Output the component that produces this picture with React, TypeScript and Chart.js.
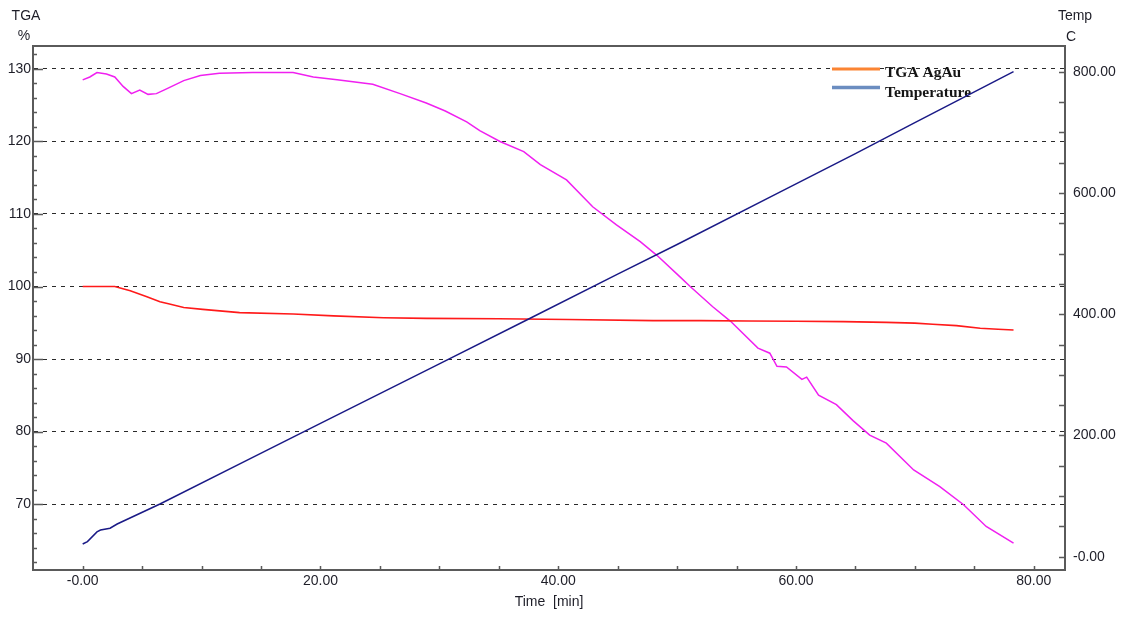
import { useEffect, useRef } from 'react';
import { Chart, registerables } from 'chart.js';

Chart.register(...registerables);

// TGA mass curve (%), left axis
const tgaTime = [0, 2.7, 4.0, 5.4, 6.5, 7.3, 8.5, 10.1, 13.2, 17.7, 21.1, 25.3, 28.9, 35, 40.8, 48, 52, 56, 60, 64, 67.6, 70, 71.5, 73.5, 75.5, 77, 78.3];
const tgaPercent = [100, 100, 99.4, 98.6, 97.9, 97.6, 97.1, 96.85, 96.4, 96.2, 95.95, 95.7, 95.6, 95.55, 95.45, 95.3, 95.3, 95.25, 95.2, 95.15, 95.05, 94.95, 94.8, 94.6, 94.25, 94.1, 94.0];

// Furnace temperature (C), right axis
const tempTime = [0, 0.4, 1.2, 1.5, 2.3, 2.9, 6.5, 13.8, 20, 30, 37.6, 45, 50, 58.6, 65, 70, 78.3];
const tempCelsius = [21, 25, 41, 44, 47, 54, 87, 159, 220, 318, 393, 466, 515, 601, 665, 716, 800];

// Auxiliary signal trace, plotted against the left axis
const signalTime = [0, 0.6, 1.2, 2.0, 2.7, 3.4, 4.1, 4.8, 5.5, 6.2, 7.1, 8.5, 9.9, 11.5, 14.3, 17.7, 19.4, 21.4, 24.4, 26.7, 28.9, 30.5, 32.3, 33.4, 35.1, 37.1, 38.5, 40.7, 42.9, 44.9, 46.9, 48.3, 50.2, 51.1, 53.0, 54.5, 56.8, 57.8, 58.4, 59.2, 60.5, 60.9, 61.9, 63.4, 64.8, 66.2, 67.6, 69.9, 72.1, 74.1, 76.0, 78.3];
const signalValue = [128.5, 128.9, 129.5, 129.3, 128.9, 127.6, 126.6, 127.1, 126.5, 126.6, 127.3, 128.4, 129.1, 129.4, 129.5, 129.5, 128.9, 128.5, 127.9, 126.6, 125.3, 124.2, 122.7, 121.5, 120.0, 118.6, 116.8, 114.7, 111.0, 108.5, 106.2, 104.3, 101.4, 100.0, 97.2, 95.2, 91.5, 90.8, 89.0, 88.9, 87.2, 87.5, 85.0, 83.7, 81.5, 79.5, 78.4, 74.7, 72.4, 69.9, 66.9, 64.6];

// Axis ticks and labels
const timeTicks = [0, 20, 40, 60, 80];
const timeTickLabels = ['-0.00', '20.00', '40.00', '60.00', '80.00'];
const timeMinorTicks = [0, 5, 10, 15, 20, 25, 30, 35, 40, 45, 50, 55, 60, 65, 70, 75, 80];

const tgaTicks = [70, 80, 90, 100, 110, 120, 130];
const tgaTickLabels = ['70', '80', '90', '100', '110', '120', '130'];
const tgaMinorTicks = [62, 64, 66, 68, 70, 72, 74, 76, 78, 80, 82, 84, 86, 88, 90, 92, 94, 96, 98, 100, 102, 104, 106, 108, 110, 112, 114, 116, 118, 120, 122, 124, 126, 128, 130, 132];

const tempTicks = [0, 200, 400, 600, 800];
const tempTickLabels = ['-0.00', '200.00', '400.00', '600.00', '800.00'];
const tempMinorTicks = [0, 50, 100, 150, 200, 250, 300, 350, 400, 450, 500, 550, 600, 650, 700, 750, 800];

const legendLabels = ['TGA AgAu', 'Temperature'];
const legendColors = ['#fb8433', '#6b8dc0'];

const AXIS_COLOR = '#5a5a5a';
const TEXT_COLOR = '#1e1e28';
const SANS = "'Liberation Sans', Arial, sans-serif";
const tickFont = { family: SANS, size: 14 };

const toPoints = (xs: number[], ys: number[]) => xs.map((x, i) => ({ x, y: ys[i] }));

const fixedTicks = (values: number[]) => (scale: any) => {
  scale.ticks = values.map((value) => ({ value }));
};

const labelFrom = (values: number[], labels: string[]) => (value: number | string) => {
  const i = values.indexOf(Number(value));
  return i >= 0 ? labels[i] : '';
};

const decorations = {
  id: 'decorations',
  beforeDatasetsDraw(chart: any) {
    const { ctx } = chart;
    ctx.save();
    // legend box inside the plot
    const lineX0 = 832;
    const lineX1 = 880;
    const lineY = [69, 87.5];
    const textY = [76.5, 96.5];
    ctx.font = "bold 15.5px 'Liberation Serif', 'Times New Roman', serif";
    ctx.textAlign = 'left';
    ctx.textBaseline = 'alphabetic';
    legendLabels.forEach((label, i) => {
      ctx.strokeStyle = legendColors[i];
      ctx.lineWidth = i === 0 ? 3 : 3.5;
      ctx.beginPath();
      ctx.moveTo(lineX0, lineY[i]);
      ctx.lineTo(lineX1, lineY[i]);
      ctx.stroke();
      ctx.fillStyle = '#151515';
      ctx.fillText(label, 885, textY[i]);
    });
    ctx.restore();
  },
  afterDatasetsDraw(chart: any) {
    const { ctx, chartArea } = chart;
    const { left, right, top, bottom } = chartArea;
    const xs = chart.scales.x;
    const yl = chart.scales.y;
    const yr = chart.scales.y2;
    ctx.save();
    ctx.strokeStyle = AXIS_COLOR;

    // top frame line
    ctx.lineWidth = 2;
    ctx.beginPath();
    ctx.moveTo(left - 1, top);
    ctx.lineTo(right + 1, top);
    ctx.stroke();

    // inward tick marks
    ctx.lineWidth = 1.5;
    ctx.beginPath();
    timeMinorTicks.forEach((v) => {
      const px = Math.round(xs.getPixelForValue(v)) + 0.5;
      ctx.moveTo(px, bottom);
      ctx.lineTo(px, bottom - 4);
    });
    tgaMinorTicks.forEach((v) => {
      const py = Math.round(yl.getPixelForValue(v)) + 0.5;
      const len = v % 10 === 0 ? 10 : 4;
      ctx.moveTo(left - 1, py);
      ctx.lineTo(left + len, py);
    });
    tempMinorTicks.forEach((v) => {
      const py = Math.round(yr.getPixelForValue(v)) + 0.5;
      ctx.moveTo(right, py);
      ctx.lineTo(right - 6, py);
    });
    ctx.stroke();

    // axis unit headings
    ctx.fillStyle = TEXT_COLOR;
    ctx.font = `14px ${SANS}`;
    ctx.textAlign = 'center';
    ctx.textBaseline = 'alphabetic';
    ctx.fillText('TGA', 26, 20);
    ctx.fillText('%', 24, 40);
    ctx.fillText('Temp', 1075, 20);
    ctx.fillText('C', 1071, 41);
    ctx.restore();
  },
};

export default function App() {
  const canvasRef = useRef<HTMLCanvasElement | null>(null);

  useEffect(() => {
    const canvas = canvasRef.current;
    if (!canvas) return;
    const chart = new Chart(canvas, {
      type: 'line',
      data: {
        datasets: [
          {
            label: 'Temperature',
            data: toPoints(tempTime, tempCelsius),
            yAxisID: 'y2',
            borderColor: '#1a1a86',
            borderWidth: 1.5,
          },
          {
            label: 'TGA AgAu',
            data: toPoints(tgaTime, tgaPercent),
            yAxisID: 'y',
            borderColor: '#ff1a1a',
            borderWidth: 1.6,
          },
          {
            label: 'Signal',
            data: toPoints(signalTime, signalValue),
            yAxisID: 'y',
            borderColor: '#f020f0',
            borderWidth: 1.5,
          },
        ],
      },
      options: {
        animation: false,
        responsive: false,
        devicePixelRatio: 1,
        layout: { padding: { top: 46, left: 0, right: 0, bottom: 0 } },
        elements: {
          point: { radius: 0 },
          line: { tension: 0, fill: false },
        },
        plugins: {
          legend: { display: false },
          tooltip: { enabled: false },
        },
        scales: {
          x: {
            type: 'linear',
            position: 'bottom',
            min: -4.18,
            max: 82.63,
            afterBuildTicks: fixedTicks(timeTicks),
            afterFit: (s: any) => {
              s.height = 49;
            },
            grid: { display: false, drawTicks: false },
            border: { color: AXIS_COLOR, width: 2 },
            ticks: {
              callback: labelFrom(timeTicks, timeTickLabels),
              font: tickFont,
              color: TEXT_COLOR,
              padding: 3,
              autoSkip: false,
              maxRotation: 0,
            },
            title: {
              display: true,
              text: 'Time  [min]',
              font: tickFont,
              color: TEXT_COLOR,
              padding: { top: 0, bottom: 8 },
            },
          },
          y: {
            type: 'linear',
            position: 'left',
            min: 60.9,
            max: 133.17,
            afterBuildTicks: fixedTicks(tgaTicks),
            afterFit: (s: any) => {
              s.width = 33;
            },
            grid: { color: '#2a2a2a', lineWidth: 1, drawTicks: false },
            border: { color: AXIS_COLOR, width: 2, dash: [4, 5] },
            ticks: {
              callback: labelFrom(tgaTicks, tgaTickLabels),
              font: tickFont,
              color: TEXT_COLOR,
              padding: 2,
              autoSkip: false,
            },
          },
          y2: {
            type: 'linear',
            position: 'right',
            min: -21.9,
            max: 842.4,
            afterBuildTicks: fixedTicks(tempTicks),
            afterFit: (s: any) => {
              s.width = 66;
            },
            grid: { drawOnChartArea: false, drawTicks: false },
            border: { color: AXIS_COLOR, width: 2 },
            ticks: {
              callback: labelFrom(tempTicks, tempTickLabels),
              font: tickFont,
              color: TEXT_COLOR,
              padding: 8,
              autoSkip: false,
            },
          },
        },
      },
      plugins: [decorations],
    });
    return () => chart.destroy();
  }, []);

  return (
    <div style={{ position: 'absolute', left: 0, top: 0, width: 1131, height: 619, background: '#fff' }}>
      <canvas ref={canvasRef} width={1131} height={619} style={{ display: 'block' }} />
    </div>
  );
}
